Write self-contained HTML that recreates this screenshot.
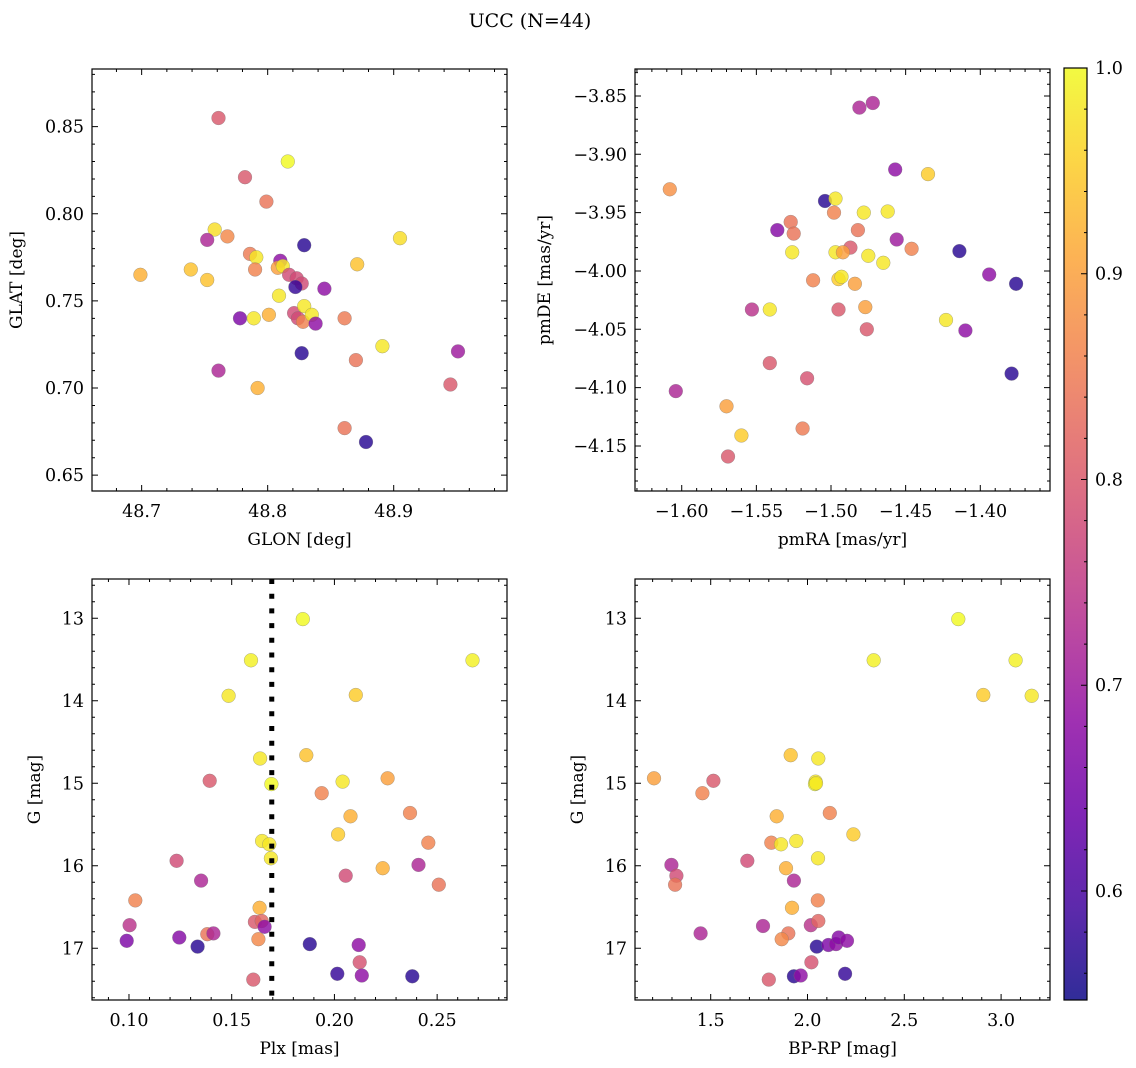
<!DOCTYPE html>
<html><head><meta charset="utf-8"><style>
html,body{margin:0;padding:0;background:#fff;}
svg{display:block;font-family:"DejaVu Serif","Liberation Serif",serif;}
</style></head><body>
<svg id="fig" width="1136" height="1068" viewBox="0 0 1136 1068" xmlns="http://www.w3.org/2000/svg">
<text x="530" y="27" text-anchor="middle" font-size="19">UCC (N=44)</text>
<defs><linearGradient id="plasmaGrad" x1="0" y1="1" x2="0" y2="0"></linearGradient></defs>
</svg>
<script>
// Panel 1: GLON / GLAT
const glon1=[48.761,48.816,48.782,48.799,48.758,48.768,48.752,48.905,48.829,48.699,48.739,48.752,48.786,48.791,48.790,48.810,48.808,48.812,48.817,48.823,48.827,48.822,48.871,48.845,48.809,48.778,48.789,48.801,48.821,48.824,48.828,48.829,48.835,48.838,48.861,48.827,48.891,48.951,48.870,48.761,48.792,48.945,48.861,48.878];
const glat1=[0.855,0.830,0.821,0.807,0.791,0.787,0.785,0.786,0.782,0.765,0.768,0.762,0.777,0.775,0.768,0.773,0.769,0.770,0.765,0.763,0.760,0.758,0.771,0.757,0.753,0.740,0.740,0.742,0.743,0.740,0.738,0.747,0.742,0.737,0.740,0.720,0.724,0.721,0.716,0.710,0.700,0.702,0.677,0.669];
const prob1=[0.80,1.0,0.80,0.84,0.97,0.87,0.72,0.97,0.57,0.92,0.94,0.94,0.85,0.98,0.86,0.68,0.90,0.98,0.78,0.78,0.78,0.58,0.94,0.68,0.98,0.66,0.98,0.92,0.78,0.78,0.86,0.98,0.98,0.68,0.85,0.57,0.98,0.70,0.84,0.72,0.92,0.80,0.84,0.57];
// Panel 2: pmRA / pmDE
const pmra2=[-1.481,-1.472,-1.457,-1.435,-1.608,-1.504,-1.497,-1.498,-1.478,-1.462,-1.527,-1.536,-1.525,-1.482,-1.456,-1.487,-1.446,-1.414,-1.526,-1.497,-1.492,-1.475,-1.465,-1.394,-1.376,-1.512,-1.495,-1.493,-1.484,-1.553,-1.541,-1.495,-1.477,-1.423,-1.410,-1.476,-1.541,-1.516,-1.379,-1.604,-1.570,-1.560,-1.519,-1.569];
const pmde2=[-3.860,-3.856,-3.913,-3.917,-3.930,-3.940,-3.938,-3.950,-3.950,-3.949,-3.958,-3.965,-3.968,-3.965,-3.973,-3.980,-3.981,-3.983,-3.984,-3.984,-3.984,-3.987,-3.993,-4.003,-4.011,-4.008,-4.007,-4.005,-4.011,-4.033,-4.033,-4.033,-4.031,-4.042,-4.051,-4.050,-4.079,-4.092,-4.088,-4.103,-4.116,-4.141,-4.135,-4.159];
const prob2=[0.72,0.72,0.68,0.95,0.88,0.57,0.98,0.86,0.98,0.98,0.84,0.67,0.84,0.84,0.70,0.80,0.86,0.57,0.98,0.98,0.90,0.98,0.98,0.68,0.57,0.86,0.95,0.98,0.90,0.74,0.98,0.80,0.90,0.98,0.68,0.80,0.80,0.79,0.57,0.72,0.90,0.95,0.85,0.80];
// Panel 3: Plx / G
const plx3=[0.1846,0.1594,0.2672,0.1485,0.2104,0.1638,0.1863,0.1393,0.1693,0.2040,0.2259,0.1938,0.2368,0.2078,0.2018,0.1648,0.1683,0.1691,0.2457,0.1232,0.2409,0.2235,0.2055,0.1351,0.2508,0.1031,0.1636,0.1003,0.1613,0.1646,0.1660,0.0989,0.1245,0.1381,0.1411,0.1334,0.1630,0.1880,0.2118,0.2123,0.2014,0.2133,0.2379,0.1605];
const g3=[13.01,13.51,13.51,13.94,13.93,14.70,14.66,14.97,15.01,14.98,14.94,15.12,15.36,15.40,15.62,15.70,15.74,15.91,15.72,15.94,15.99,16.03,16.12,16.18,16.23,16.42,16.51,16.72,16.68,16.67,16.74,16.91,16.87,16.83,16.82,16.98,16.89,16.95,16.96,17.17,17.31,17.33,17.34,17.38];
const prob3=[1.0,0.99,0.99,0.98,0.95,0.98,0.94,0.80,1.0,0.98,0.90,0.86,0.86,0.92,0.95,0.98,0.98,0.98,0.86,0.78,0.72,0.92,0.78,0.72,0.84,0.86,0.92,0.74,0.80,0.82,0.68,0.66,0.67,0.84,0.72,0.57,0.87,0.57,0.68,0.79,0.58,0.68,0.57,0.80];
const plxCut=[0.1695];
// Panel 4: BP-RP / G
const bprp4=[2.779,2.342,3.075,2.908,3.158,1.913,2.056,2.042,2.039,1.207,1.514,1.457,2.115,1.841,2.237,1.813,1.863,1.942,2.054,1.297,1.689,1.889,1.323,1.316,1.930,2.053,1.920,1.448,1.770,2.017,2.056,1.901,1.867,2.048,2.108,2.147,2.161,2.204,2.020,2.194,1.930,1.965,1.800,2.044];
const g4=[13.01,13.51,13.51,13.93,13.94,14.66,14.70,14.98,15.01,14.94,14.97,15.12,15.36,15.40,15.62,15.72,15.74,15.70,15.91,15.99,15.94,16.03,16.12,16.23,16.18,16.42,16.51,16.82,16.73,16.72,16.67,16.82,16.89,16.98,16.96,16.95,16.87,16.91,17.17,17.31,17.34,17.33,17.38,15.00];
const prob4=[1.0,0.99,0.99,0.95,0.98,0.94,0.98,0.98,1.0,0.90,0.80,0.86,0.86,0.92,0.95,0.86,0.98,0.98,0.98,0.72,0.78,0.92,0.78,0.84,0.72,0.86,0.92,0.72,0.72,0.74,0.82,0.84,0.87,0.57,0.66,0.68,0.67,0.68,0.79,0.58,0.57,0.68,0.80,0.98];
// Tick labels
const ticks1x=[48.7,48.8,48.9], ticks1y=[0.65,0.70,0.75,0.80,0.85];
const ticks2x=[-1.60,-1.55,-1.50,-1.45,-1.40], ticks2y=[-4.15,-4.10,-4.05,-4.00,-3.95,-3.90,-3.85];
const ticks3x=[0.10,0.15,0.20,0.25], ticks34y=[13,14,15,16,17];
const ticks4x=[1.5,2.0,2.5,3.0];
const cbTicks=[0.6,0.7,0.8,0.9,1.0];
const cbRange=[0.547,1.0];

const NS="http://www.w3.org/2000/svg";
const svg=document.getElementById('fig');
function mk(tag,attrs,parent){const e=document.createElementNS(NS,tag);for(const k in attrs)e.setAttribute(k,attrs[k]);(parent||svg).appendChild(e);return e;}
const plasma=[[13,8,135],[65,4,157],[106,0,168],[143,13,164],[177,42,144],[204,71,120],[225,100,98],[242,132,75],[252,166,54],[252,206,37],[240,249,33]];
function cmap(v){let t=(v-cbRange[0])/(cbRange[1]-cbRange[0]);t=Math.max(0,Math.min(1,t));const f=t*10;const i=Math.min(9,Math.floor(f));const r=f-i;const a=plasma[i],b=plasma[i+1];return `rgb(${Math.round(a[0]+(b[0]-a[0])*r)},${Math.round(a[1]+(b[1]-a[1])*r)},${Math.round(a[2]+(b[2]-a[2])*r)})`;}
function fmt(v,d){return (v<0?'\u2212':'')+Math.abs(v).toFixed(d);}
const TF=17.5, LF=17;

function panel(name,box,xd,yd,xt,yt,xdec,ydec,xminor,yminor,xlab,ylab,ylabX,xs,ys,cs,invertY){
  const g=mk('g',{});
  
  
  const X=v=>box.x0+(v-xd[0])/(xd[1]-xd[0])*(box.x1-box.x0);
  const Y=invertY?(v=>box.y0+(v-yd[0])/(yd[1]-yd[0])*(box.y1-box.y0)):(v=>box.y1-(v-yd[0])/(yd[1]-yd[0])*(box.y1-box.y0));
  const pg=mk('g',{},g);
  
  
  for(let i=0;i<xs.length;i++){
    const c=mk('circle',{cx:X(xs[i]).toFixed(1),cy:Y(ys[i]).toFixed(1),r:6.9,fill:cmap(cs[i]),'fill-opacity':0.82,stroke:'#777','stroke-width':0.5,'stroke-opacity':0.6},pg);
    
    
  }
  const fr=mk('rect',{x:box.x0,y:box.y0,width:box.x1-box.x0,height:box.y1-box.y0,fill:'none',stroke:'#000','stroke-width':1.2},g);
  
  
  let d='';
  const xmin=Math.ceil(xd[0]/xminor-1e-6), xmax=Math.floor(xd[1]/xminor+1e-6);
  for(let k=xmin;k<=xmax;k++){const v=k*xminor;const px=X(v);const major=xt.some(t=>Math.abs(t-v)<xminor/4);const L=major?6:3;d+=`M${px},${box.y1}v${-L}M${px},${box.y0}v${L}`;}
  const ymin=Math.ceil(yd[0]/yminor-1e-6), ymax=Math.floor(yd[1]/yminor+1e-6);
  for(let k=ymin;k<=ymax;k++){const v=k*yminor;const py=Y(v);const major=yt.some(t=>Math.abs(t-v)<yminor/4);const L=major?6:3;d+=`M${box.x0},${py}h${L}M${box.x1},${py}h${-L}`;}
  const tp=mk('path',{d:d,stroke:'#000','stroke-width':1,fill:'none'},g);
  
  
  for(const t of xt){const e=mk('text',{x:X(t),y:box.y1+26,'text-anchor':'middle','font-size':TF},g);e.textContent=fmt(t,xdec);
    
    }
  for(const t of yt){const e=mk('text',{x:box.x0-8,y:Y(t)+6,'text-anchor':'end','font-size':TF},g);e.textContent=fmt(t,ydec);
    
    }
  const xl=mk('text',{x:(box.x0+box.x1)/2,y:box.y1+54,'text-anchor':'middle','font-size':LF},g);xl.textContent=xlab;
  
  
  const cy=(box.y0+box.y1)/2;
  const yl=mk('text',{x:ylabX,y:cy,'text-anchor':'middle','font-size':LF,transform:`rotate(-90 ${ylabX} ${cy})`},g);yl.textContent=ylab;
  
  
  return {g,X,Y};
}

panel('panel-glon-glat',{x0:92,x1:507,y0:69,y1:491},[48.6606,48.9899],[0.6409,0.8831],ticks1x,ticks1y,1,2,0.02,0.01,'GLON [deg]','GLAT [deg]',22,glon1,glat1,prob1,false);
panel('panel-pm',{x0:635,x1:1050,y0:69,y1:491},[-1.6313,-1.3533],[-4.1886,-3.8269],ticks2x,ticks2y,2,2,0.01,0.01,'pmRA [mas/yr]','pmDE [mas/yr]',550,pmra2,pmde2,prob2,false);
const p3=panel('panel-plx-g',{x0:92,x1:507,y0:579,y1:1000},[0.082,0.284],[12.524,17.627],ticks3x,ticks34y,2,0,0.01,0.2,'Plx [mas]','G [mag]',40,plx3,g3,prob3,true);
const cut=mk('line',{x1:p3.X(plxCut[0]),x2:p3.X(plxCut[0]),y1:579,y2:1000,stroke:'#000','stroke-width':5,'stroke-dasharray':'5 9.7'},p3.g);


panel('panel-cmd',{x0:635,x1:1050,y0:579,y1:1000},[1.109,3.2526],[12.524,17.627],ticks4x,ticks34y,1,0,0.1,0.2,'BP-RP [mag]','G [mag]',583,bprp4,g4,prob4,true);

const grad=document.getElementById('plasmaGrad');
for(let i=0;i<=20;i++){const v=cbRange[0]+(cbRange[1]-cbRange[0])*i/20;mk('stop',{offset:(i*5)+'%','stop-color':cmap(v)},grad);}
const cb=mk('g',{});


const cbx0=1064,cbx1=1087,cby0=68,cby1=1000;
mk('rect',{x:cbx0,y:cby0,width:cbx1-cbx0,height:cby1-cby0,fill:'url(#plasmaGrad)','fill-opacity':0.85,stroke:'#000','stroke-width':1.2},cb);
const CY=v=>cby1-(v-cbRange[0])/(cbRange[1]-cbRange[0])*(cby1-cby0);
let cd='';
for(let k=28;k<=50;k++){const v=k*0.02;if(v<cbRange[0])continue;const major=cbTicks.some(t=>Math.abs(t-v)<0.005);cd+=`M${cbx1},${CY(v)}h${major?-6:-3}`;}
mk('path',{d:cd,stroke:'#000','stroke-width':1},cb);
for(const t of cbTicks){const e=mk('text',{x:cbx1+8,y:CY(t)+6,'font-size':TF},cb);e.textContent=t.toFixed(1);
  
  }
</script>
</body></html>
